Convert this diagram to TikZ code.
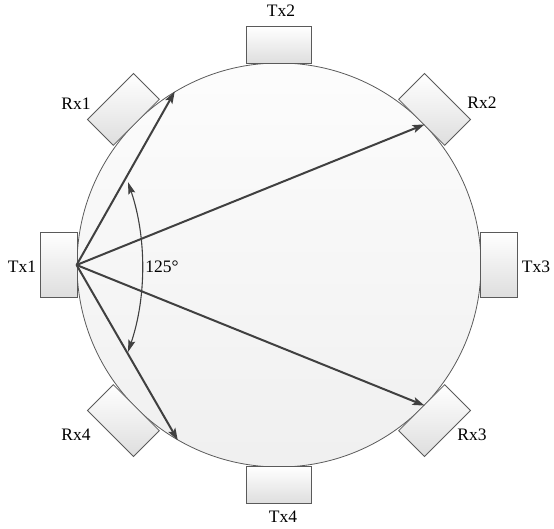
\documentclass[tikz,border=0pt]{standalone}
\usepackage{fontspec}
\setmainfont{Liberation Serif}
\usetikzlibrary{arrows.meta,calc}
\definecolor{linec}{HTML}{404040}
\definecolor{edgec}{HTML}{5A5A5A}
\begin{document}
\begin{tikzpicture}[x=1pt,y=-1pt,
  unit/.style={draw=edgec, line width=0.8pt, minimum width=65pt, minimum height=36.5pt,
    inner sep=0pt, top color=white, bottom color=black!13},
  lbl/.style={font=\fontsize{17.5}{20}\selectfont, inner sep=0pt},
  ray/.style={draw=linec, line width=2pt, -{Stealth[length=12pt,width=8pt,inset=2.5pt]}},
  angtip/.tip={Stealth[length=12pt,width=7pt,inset=2pt]}]
\useasboundingbox (0,0) rectangle (554,529);
\node[circle, draw=edgec, line width=0.8pt, minimum size=404pt, inner sep=0pt,
  top color=black!1, bottom color=black!6] (C) at (279,265) {};
% transmitter / receiver units
\node[unit, rotate=90]   (Tx1) at ($(C)+(180:220pt)$) {};
\node[unit, rotate=0]    (Tx2) at ($(C)+(90:220pt)$) {};
\node[unit, rotate=-90]  (Tx3) at ($(C)+(0:220pt)$) {};
\node[unit, rotate=180]  (Tx4) at ($(C)+(270:220pt)$) {};
\node[unit, rotate=45]   (Rx1) at ($(C)+(135:220pt)$) {};
\node[unit, rotate=-45]  (Rx2) at ($(C)+(45:220pt)$) {};
\node[unit, rotate=-135] (Rx3) at ($(C)+(-45:220pt)$) {};
\node[unit, rotate=135]  (Rx4) at ($(C)+(225:220pt)$) {};
% rays
\draw[ray] (C.west) -- (C.121.5);
\draw[ray] (C.west) -- (C.44.3);
\draw[ray] (C.west) -- (C.-44.4);
\draw[ray] (C.west) -- (C.-120);
% angle
\coordinate (a1) at (128,352);
\draw[draw=linec, line width=1.1pt, angtip-angtip] (a1) arc[start angle=-18.7, end angle=18.7, radius=265pt];
% labels
\node[lbl] (lTx1) at (22,267) {Tx1};
\node[lbl] (lTx2) at (281,11) {Tx2};
\node[lbl] (lTx3) at (536,267) {Tx3};
\node[lbl] (lTx4) at (283,517) {Tx4};
\node[lbl] (lRx1) at (76,104) {Rx1};
\node[lbl] (lRx2) at (482,103) {Rx2};
\node[lbl] (lRx3) at (472,435) {Rx3};
\node[lbl] (lRx4) at (76,435) {Rx4};
\node[lbl] (ang) at (162,267) {125°};
\end{tikzpicture}
\end{document}
